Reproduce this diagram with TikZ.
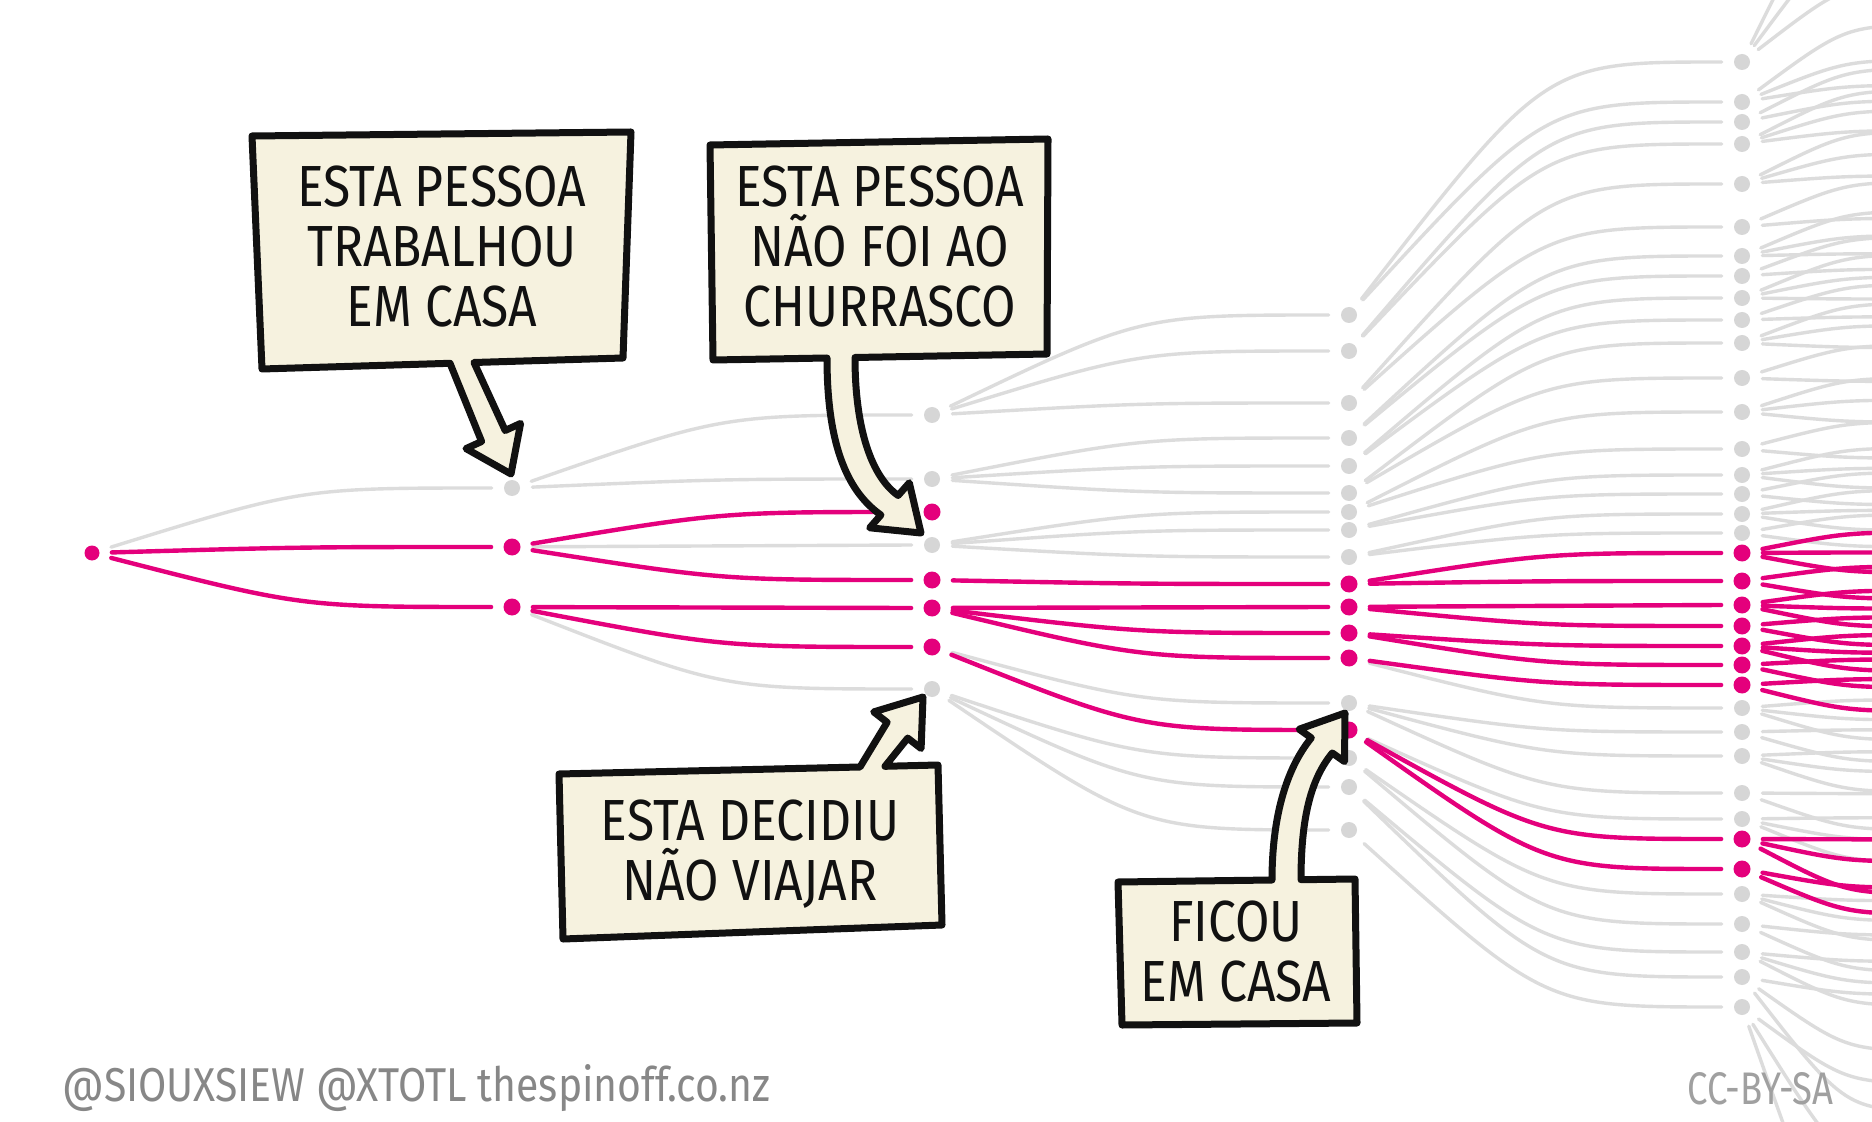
\documentclass[tikz,border=0pt]{standalone}
\usepackage{fontspec}
\usepackage{graphicx}
\usetikzlibrary{calc}
\newfontfamily\hand[FakeStretch=0.86]{Fira Sans}
\definecolor{pinkc}{RGB}{228,0,124}
\definecolor{dotg}{RGB}{214,214,214}
\definecolor{lineg}{RGB}{220,220,220}
\definecolor{cream}{RGB}{246,242,223}
\definecolor{ink}{RGB}{17,17,17}
\definecolor{foot}{RGB}{135,135,135}
\definecolor{footl}{RGB}{160,160,160}
\pgfdeclarelayer{bg}\pgfdeclarelayer{back}\pgfsetlayers{bg,back,main}
\tikzset{
 dot0/.style={circle,fill=dotg,inner sep=0pt,minimum size=8pt},
 dot1/.style={circle,fill=pinkc,inner sep=0pt,minimum size=8.5pt},
 dotr/.style={circle,fill=pinkc,inner sep=0pt,minimum size=7.5pt},
 eg/.style={draw=lineg,line width=1.7pt,line cap=round,shorten <=6pt,shorten >=6pt},
 ep/.style={draw=pinkc,line width=2.2pt,line cap=round,shorten <=6pt,shorten >=6pt},
 branch/.style={to path={.. controls ($(\tikztotarget)!0.5!(\tikztostart|-\tikztotarget)$) .. (\tikztotarget)}},
 callout/.style={fill=cream,draw=ink,line width=3.5pt,line join=round},
 lbl/.style={font=\hand\fontsize{29pt}{30pt}\selectfont,text=ink,align=center,inner sep=0pt},
}
\newcommand\tedge[3]{\ifnum#1=0\relax\begin{pgfonlayer}{back}\draw[eg,branch] (#2) to (#3);\end{pgfonlayer}\else\draw[ep,branch] (#2) to (#3);\fi}
\newcommand\tdot[4]{\ifnum#1=0\relax\node[dot0] (#2) at (#3,#4) {};\else\node[dot1] (#2) at (#3,#4) {};\fi}
\begin{document}
\begin{tikzpicture}[x=0.5pt,y=-0.5pt]
\useasboundingbox (0,0) rectangle (1872,1122);
\begin{pgfonlayer}{bg}\fill[white] (0,0) rectangle (1872,1122);\end{pgfonlayer}
% root
\node[dotr] (r) at (92,553) {};
% column 1
\foreach \y/\c [count=\i] in {488/0,547/1,607/1}{
  \tdot{\c}{c1n\i}{512}{\y}
  \tedge{\c}{r}{c1n\i}
}
% column 2
\foreach \y/\c/\p [count=\i] in {415/0/1,479/0/1,512/1/2,545/0/2,580/1/2,608/1/3,647/1/3,689/0/3}{
  \tdot{\c}{c2n\i}{932}{\y}
  \tedge{\c}{c1n\p}{c2n\i}
}
% column 3
\foreach \y/\c/\p [count=\i] in {315/0/1,351/0/1,403/0/1,438/0/2,466/0/2,493/0/2,512/0/4,530/0/4,557/0/4,584/1/5,607/1/6,633/1/6,658/1/6,703/0/7,730/1/7,758/0/8,787/0/8,830/0/8}{
  \tdot{\c}{c3n\i}{1349}{\y}
  \tedge{\c}{c2n\p}{c3n\i}
}
% column 4 and branches leaving the picture
\foreach \y/\c/\p/\L [count=\i] in {
  62/0/1/{-170,-100,-40}, 102/0/1/{-40,-5,20}, 122/0/2/{-18,14}, 144/0/2/{-20,0,20},
  184/0/3/{-22,0,22}, 227/0/3/{-18,18}, 256/0/4/{-20,4,22}, 276/0/4/{-16,16},
  298/0/5/{-22,0,22}, 320/0/5/{-16,16}, 343/0/6/{-22,0,22}, 378/0/6/{-18,18},
  412/0/7/{-22,0,22}, 449/0/7/{-18,18}, 475/0/8/{-20,0,20}, 494/0/8/{-16,16},
  514/0/9/{-20,0,20}, 533/0/9/{-16,16}, 553/1/10/{-20,0,20}, 581/1/10/{-16,16},
  605/1/11/{-18,0,18}, 626/1/11/{-14,14}, 646/1/12/{-18,0,18}, 665/1/12/{-14,14},
  685/1/13/{-16,16}, 708/0/13/{-20,0,20}, 732/0/14/{-16,16}, 756/0/14/{-20,0,20},
  793/0/14/{-18,18}, 819/0/15/{-22,0,22}, 839/1/15/{-22,0,32}, 869/1/15/{-6,20},
  894/0/16/{-20,0,20}, 924/0/16/{-18,18}, 952/0/17/{-22,0,22}, 977/0/17/{-16,40,100},
  1007/0/18/{40,130,260}}{
  \tdot{\c}{c4n\i}{1742}{\y}
  \tedge{\c}{c3n\p}{c4n\i}
  \foreach \o in \L {
    \pgfmathsetmacro\cy{\y+(\y-560)*0.08+(\o)}
    \coordinate (t) at (1950,\cy);
    \tedge{\c}{c4n\i}{t}
  }
}
% callouts
\draw[callout] (262,369) -- (450,363.3) -- (481.6,441.5) -- (466,448.6) -- (511,474) -- (520.6,423.4) -- (505.2,430.5) -- (474,362.5) -- (623,358) -- (631,132) -- (252,136) -- cycle;
\draw[callout] (713,360) -- (827,358) .. controls (827,440) and (845,490) .. (880.9,515) -- (869.7,527.8) -- (921,533) -- (909.3,482.8) -- (898.1,495.5) .. controls (872,477) and (855,430) .. (855,357.5) -- (1047,354) -- (1048,139) -- (710,145) -- cycle;
\draw[callout] (563,939) -- (559,774) -- (860,767) -- (887.1,722.3) -- (873.7,711.9) -- (923,697) -- (921.1,748.5) -- (907.7,738.1) -- (885,766.3) -- (938,765) -- (942,925) -- cycle;
\draw[callout] (1122,1025) -- (1118,882) -- (1272,880) .. controls (1272,820) and (1285,770) .. (1311.3,737.9) -- (1299.1,729.2) -- (1345,713) -- (1344.5,761.6) -- (1332.3,753) .. controls (1310,780) and (1301,820) .. (1301,879.7) -- (1355,879) -- (1357,1023) -- cycle;
\node[lbl] (t1) at (442,247) {ESTA PESSOA\\TRABALHOU\\EM CASA};
\node[lbl] (t2) at (880,247) {ESTA PESSOA\\NÃO FOI AO\\CHURRASCO};
\node[lbl] (t3) at (750,854) {ESTA DECIDIU\\NÃO VIAJAR};
\node[lbl] (t4) at (1236,952) {FICOU\\EM CASA};
% footer
\node[anchor=base west,inner sep=0pt,text=foot] (f1) at (62,1101) {\resizebox{354pt}{18.5pt}{\hand @SIOUXSIEW @XTOTL thespinoff.co.nz}};
\node[anchor=base west,inner sep=0pt,text=footl] (f2) at (1687,1104) {\resizebox{73pt}{16pt}{\hand CC-BY-SA}};
\end{tikzpicture}
\end{document}
